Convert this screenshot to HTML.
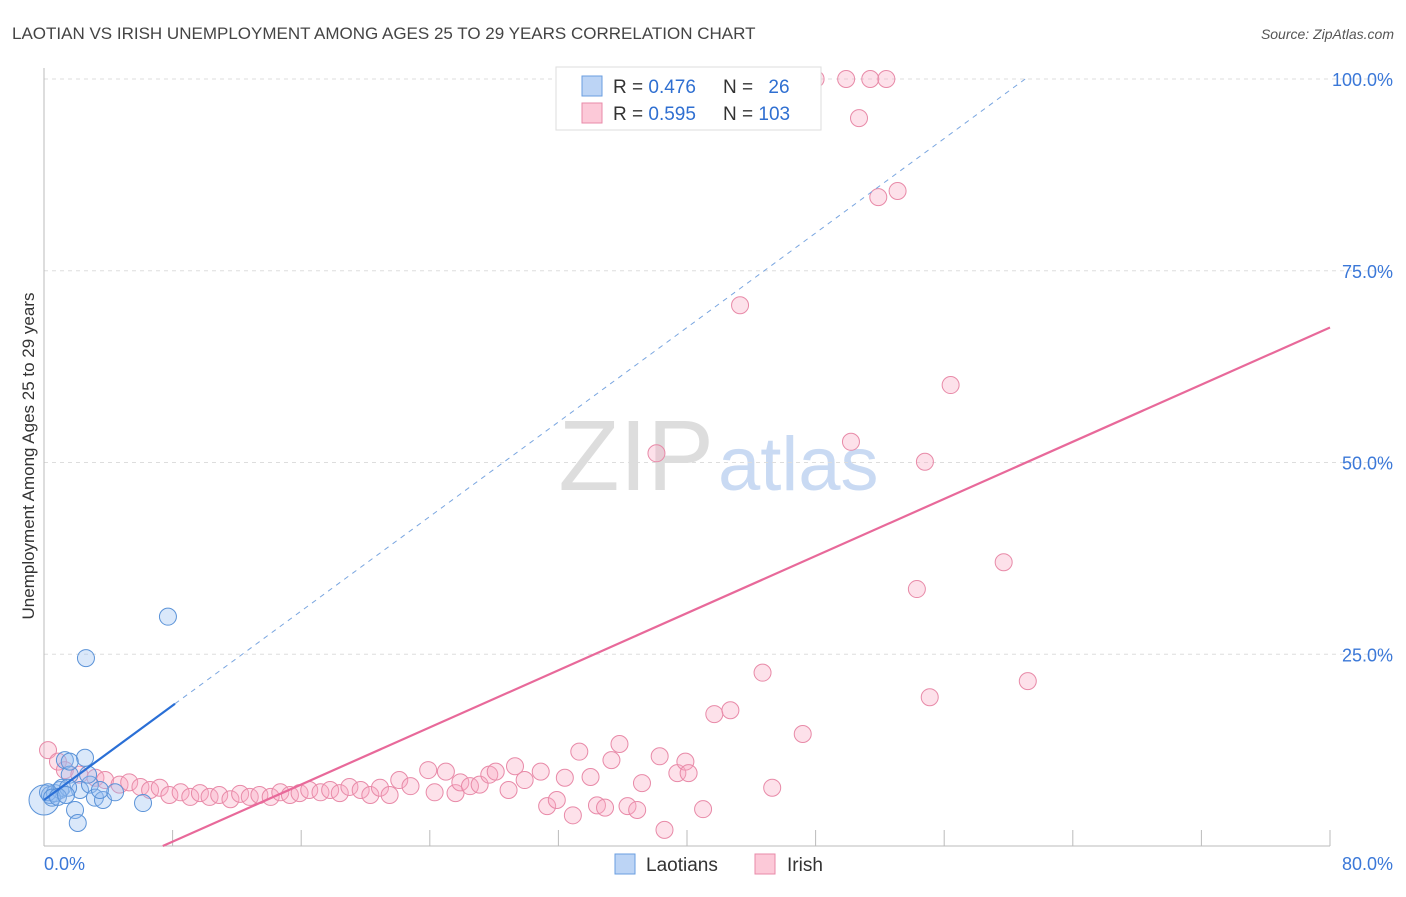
<!DOCTYPE html>
<html><head><meta charset="utf-8"><style>
body{margin:0;background:#fff;font-family:"Liberation Sans",sans-serif}
svg text{font-family:"Liberation Sans",sans-serif}
</style></head><body>
<svg id="c" width="1406" height="892" xmlns="http://www.w3.org/2000/svg">
<text x="12" y="39" font-size="17" fill="#444">LAOTIAN VS IRISH UNEMPLOYMENT AMONG AGES 25 TO 29 YEARS CORRELATION CHART</text>
<text x="1394" y="39" font-size="14" fill="#555" font-style="italic" text-anchor="end">Source: ZipAtlas.com</text>
<text x="714" y="490" font-size="100" fill="#ddd" text-anchor="end" font-family="Liberation Serif">ZIP</text>
<text x="718" y="490" font-size="76" fill="#c9daf3">atlas</text>
<text transform="translate(34,456) rotate(-90)" font-size="17" fill="#333" text-anchor="middle">Unemployment Among Ages 25 to 29 years</text>
<g id="grid"></g><g id="pts"></g><g id="lines"></g>
<g>
<rect x="556" y="67" width="265" height="63" fill="#fff" stroke="#ddd"/>
<rect x="582" y="76" width="20" height="20" fill="#bcd4f5" stroke="#6a9ee0"/>
<rect x="582" y="103" width="20" height="20" fill="#fcc9d8" stroke="#e88aa8"/>
<text x="613" y="93" font-size="19" fill="#333">R = <tspan fill="#2f6fd1">0.476</tspan></text>
<text x="723" y="93" font-size="19" fill="#333">N = <tspan fill="#2f6fd1" dx="10">26</tspan></text>
<text x="613" y="120" font-size="19" fill="#333">R = <tspan fill="#2f6fd1">0.595</tspan></text>
<text x="723" y="120" font-size="19" fill="#333">N = <tspan fill="#2f6fd1">103</tspan></text>
</g>
<g>
<rect x="615" y="854" width="20" height="20" fill="#bcd4f5" stroke="#6a9ee0"/>
<text x="646" y="871" font-size="19" fill="#333">Laotians</text>
<rect x="755" y="854" width="20" height="20" fill="#fcc9d8" stroke="#e88aa8"/>
<text x="787" y="871" font-size="19" fill="#333">Irish</text>
</g>
</svg>
<script>
const yTicks=[25,50,75,100];
const yTickLabels=["25.0%","50.0%","75.0%","100.0%"];
const xEndLabels=["0.0%","80.0%"];
const blueX=[0,0.37,0.68,1.0,1.3,2.55,1.6,2.24,2.86,3.17,1.93,2.1,3.67,6.16,7.71,2.61,4.42,1.12,1.5,2.74,1.6,0.25,0.5,0.87,1.37,3.48];
const blueY=[6.0,6.65,6.9,7.3,11.2,11.5,9.3,7.3,8.0,6.3,4.7,3.0,6.0,5.6,29.9,24.5,7.0,7.6,7.6,9.3,11.0,7.0,6.3,6.4,6.65,7.3];
const pinkX=[0.25,0.87,1.3,2.2,3.2,3.8,4.7,5.3,6.0,6.6,7.2,7.8,8.5,9.1,9.7,10.3,10.9,11.6,12.2,12.8,13.4,14.1,14.7,15.3,15.9,16.5,17.2,17.8,18.4,19.0,19.7,20.3,20.9,21.5,22.1,22.8,23.9,24.3,25.0,25.6,25.9,26.5,27.1,27.7,28.1,28.9,29.3,29.9,30.9,31.3,31.9,32.4,32.9,33.3,34.0,34.4,34.9,35.3,35.8,36.3,36.9,37.2,38.1,38.3,38.6,39.4,39.9,40.1,41.0,41.7,42.7,43.3,44.7,45.3,47.2,48.0,49.9,51.4,52.4,50.2,50.7,51.9,53.1,54.8,55.1,54.3,56.4,59.7,61.2];
const pinkY=[12.5,11,9.9,9.3,8.9,8.6,8.0,8.3,7.7,7.3,7.6,6.65,7.0,6.4,6.9,6.4,6.65,6.1,6.8,6.4,6.65,6.4,7.0,6.65,6.9,7.3,7.0,7.3,6.9,7.7,7.3,6.65,7.6,6.65,8.6,7.8,9.9,7.0,9.7,6.9,8.3,7.8,8.0,9.3,9.7,7.3,10.4,8.6,9.7,5.2,6.0,8.9,4.0,12.3,9.0,5.3,5.0,11.2,13.3,5.2,4.7,8.2,51.2,11.7,2.1,9.5,11.0,9.5,4.8,17.2,17.7,70.5,22.6,7.6,14.6,100,100,100,100,52.7,94.9,84.6,85.4,50.1,19.4,33.5,60.1,37.0,21.5];
const blueFit=[6.0,1.54];
const pinkFit=[-6.88,0.931];
const X0=44,X1=1330,Y0=846,YP=7.67;
const sx=v=>X0+v/80*(X1-X0);
const sy=v=>Y0-v*YP;
const NS="http://www.w3.org/2000/svg";
function mk(t,a,p){const e=document.createElementNS(NS,t);for(const k in a)e.setAttribute(k,a[k]);p.appendChild(e);return e;}
const grid=document.getElementById('grid');
yTicks.forEach((t,i)=>{
 const l=mk('line',{x1:X0,x2:1393,y1:sy(t),y2:sy(t),stroke:'#ddd','stroke-dasharray':'4,4'},grid);
 
 
 const tx=mk('text',{x:1393,y:sy(t)+7,'font-size':18,fill:'#3b78d8','text-anchor':'end'},grid);
 tx.textContent=yTickLabels[i];
 
 
});
const ax=mk('line',{x1:X0,x2:X0,y1:68,y2:Y0,stroke:'#bbb'},grid);


const bx=mk('line',{x1:X0,x2:X1,y1:Y0,y2:Y0,stroke:'#bbb'},grid);


for(let v=8;v<=80;v+=8){const t=mk('line',{x1:sx(v),x2:sx(v),y1:830,y2:Y0,stroke:'#bbb'},grid);
 
 }
const l0=mk('text',{x:44,y:870,'font-size':18,fill:'#3b78d8'},grid);l0.textContent=xEndLabels[0];


const l1=mk('text',{x:1393,y:870,'font-size':18,fill:'#3b78d8','text-anchor':'end'},grid);l1.textContent=xEndLabels[1];


const pts=document.getElementById('pts');
pinkX.forEach((x,i)=>{const c=mk('circle',{cx:sx(x),cy:sy(pinkY[i]),r:8.5,fill:'rgba(248,170,195,0.35)',stroke:'#e88aa8','stroke-width':1},pts);
 
 });
blueX.forEach((x,i)=>{const c=mk('circle',{cx:sx(x),cy:sy(blueY[i]),r:i===0?15:8.5,fill:'rgba(150,190,240,0.35)',stroke:'#5b93d8','stroke-width':1},pts);
 
 });
const lines=document.getElementById('lines');
const by=x=>blueFit[0]+blueFit[1]*x, py=x=>pinkFit[0]+pinkFit[1]*x;
const xEndB=(100-blueFit[0])/blueFit[1];
const d=mk('line',{x1:sx(8.15),y1:sy(by(8.15)),x2:sx(xEndB),y2:sy(100),stroke:'#7aa6e0','stroke-dasharray':'5,5','stroke-width':1},lines);


const s=mk('line',{x1:sx(0),y1:sy(by(0)),x2:sx(8.15),y2:sy(by(8.15)),stroke:'#2a6fd6','stroke-width':2.2},lines);


const xs=-pinkFit[0]/pinkFit[1];
const p=mk('line',{x1:sx(xs),y1:sy(0),x2:sx(80),y2:sy(py(80)),stroke:'#e8699a','stroke-width':2.2},lines);


</script>
</body></html>
